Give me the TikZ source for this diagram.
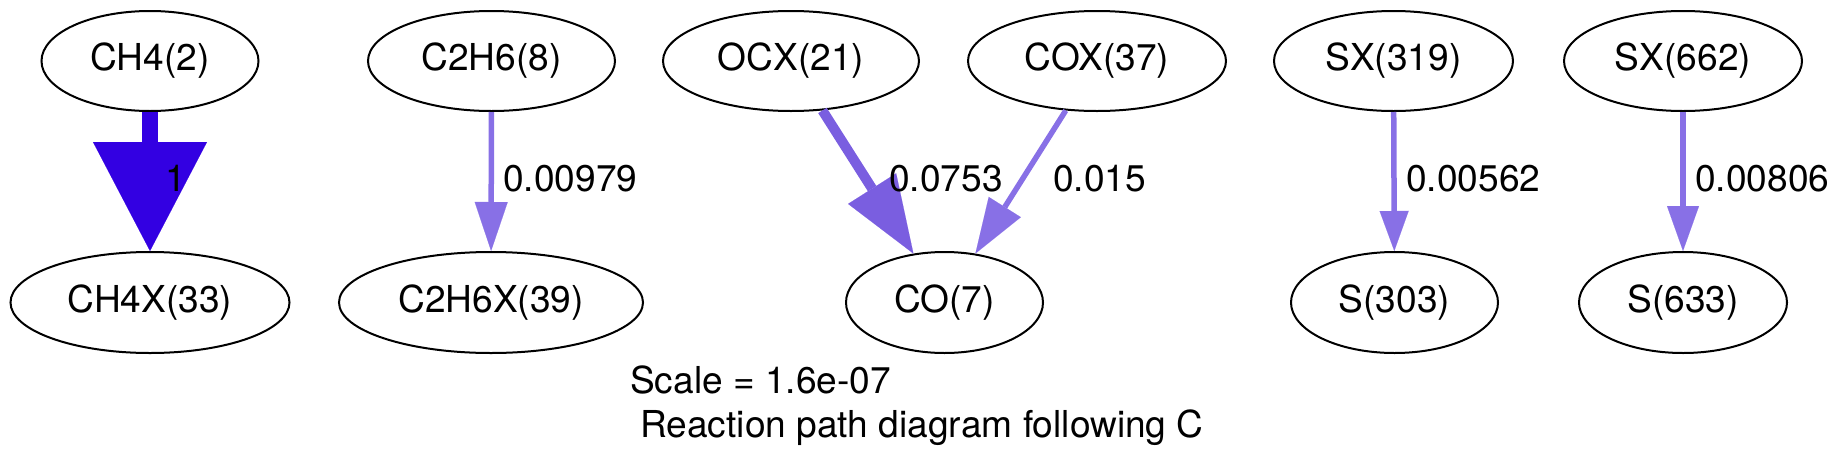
\documentclass[tikz,border=0pt]{standalone}
\usepackage{fontspec}
\setmainfont{TeX Gyre Heros}
\usetikzlibrary{shapes.geometric,arrows.meta}
\definecolor{pathA}{RGB}{51,0,226}
\definecolor{pathB}{RGB}{122,94,224}
\definecolor{pathC}{RGB}{136,112,230}
\tikzset{
  species/.style={ellipse, draw=black, line width=2pt, inner sep=0pt, font=\fontsize{37.1}{44}\selectfont},
  elabel/.style={anchor=base west, inner sep=0pt, font=\fontsize{37.1}{44}\selectfont},
  flux/.style={line width=#1}
}
\begin{document}
\begin{tikzpicture}[x=1pt,y=-1pt]
\useasboundingbox (0,0) rectangle (1842,469);
% top row
\node[species, minimum width=217pt, minimum height=100pt] (ch4) at (150,61) {CH4(2)};
\node[species, minimum width=247pt, minimum height=100pt] (c2h6) at (491.5,61) {C2H6(8)};
\node[species, minimum width=256pt, minimum height=100pt] (ocx) at (791,61) {OCX(21)};
\node[species, minimum width=258pt, minimum height=100pt] (cox) at (1097,61) {COX(37)};
\node[species, minimum width=239pt, minimum height=100pt] (sx319) at (1393.5,61) {SX(319)};
\node[species, minimum width=238pt, minimum height=100pt] (sx662) at (1683,61) {SX(662)};
% bottom row
\node[species, minimum width=279pt, minimum height=101pt] (ch4x) at (150,302.5) {CH4X(33)};
\node[species, minimum width=304pt, minimum height=101pt] (c2h6x) at (491,302.5) {C2H6X(39)};
\node[species, minimum width=197pt, minimum height=101pt] (co) at (944.5,302.5) {CO(7)};
\node[species, minimum width=207pt, minimum height=101pt] (s303) at (1394.5,302.5) {S(303)};
\node[species, minimum width=208pt, minimum height=101pt] (s633) at (1683,302.5) {S(633)};
% connectors
\draw[flux=16.7pt, draw=pathA, fill=pathA, -{Triangle[length=109pt,width=114pt,line width=0.1pt]}] (ch4) -- (ch4x);
\draw[flux=5.5pt, draw=pathC, fill=pathC, -{Triangle[length=49pt,width=33pt,line width=0.1pt]}] (c2h6) -- (c2h6x);
\draw[flux=10pt, draw=pathB, fill=pathB, -{Triangle[length=77pt,width=57pt,line width=0.1pt]}] (ocx) -- (co);
\draw[flux=5.5pt, draw=pathC, fill=pathC, -{Triangle[length=55pt,width=38pt,line width=0.1pt]}] (cox) -- (co);
\draw[flux=5.5pt, draw=pathC, fill=pathC, -{Triangle[length=40pt,width=29pt,line width=0.1pt]}] (sx319) -- (s303);
\draw[flux=6.5pt, draw=pathC, fill=pathC, -{Triangle[length=45pt,width=32pt,line width=0.1pt]}] (sx662) -- (s633);
% labels
\node[elabel] (l1) at (165,191) {1};
\node[elabel] (l2) at (503,191) {0.00979};
\node[elabel] (l3) at (889,191) {0.0753};
\node[elabel] (l4) at (1053,191) {0.015};
\node[elabel] (l5) at (1406,191) {0.00562};
\node[elabel] (l6) at (1695,191) {0.00806};
\node[elabel] (scale) at (630,393) {Scale = 1.6e-07};
\node[elabel] (title) at (640,437) {Reaction path diagram following C};
\end{tikzpicture}
\end{document}
